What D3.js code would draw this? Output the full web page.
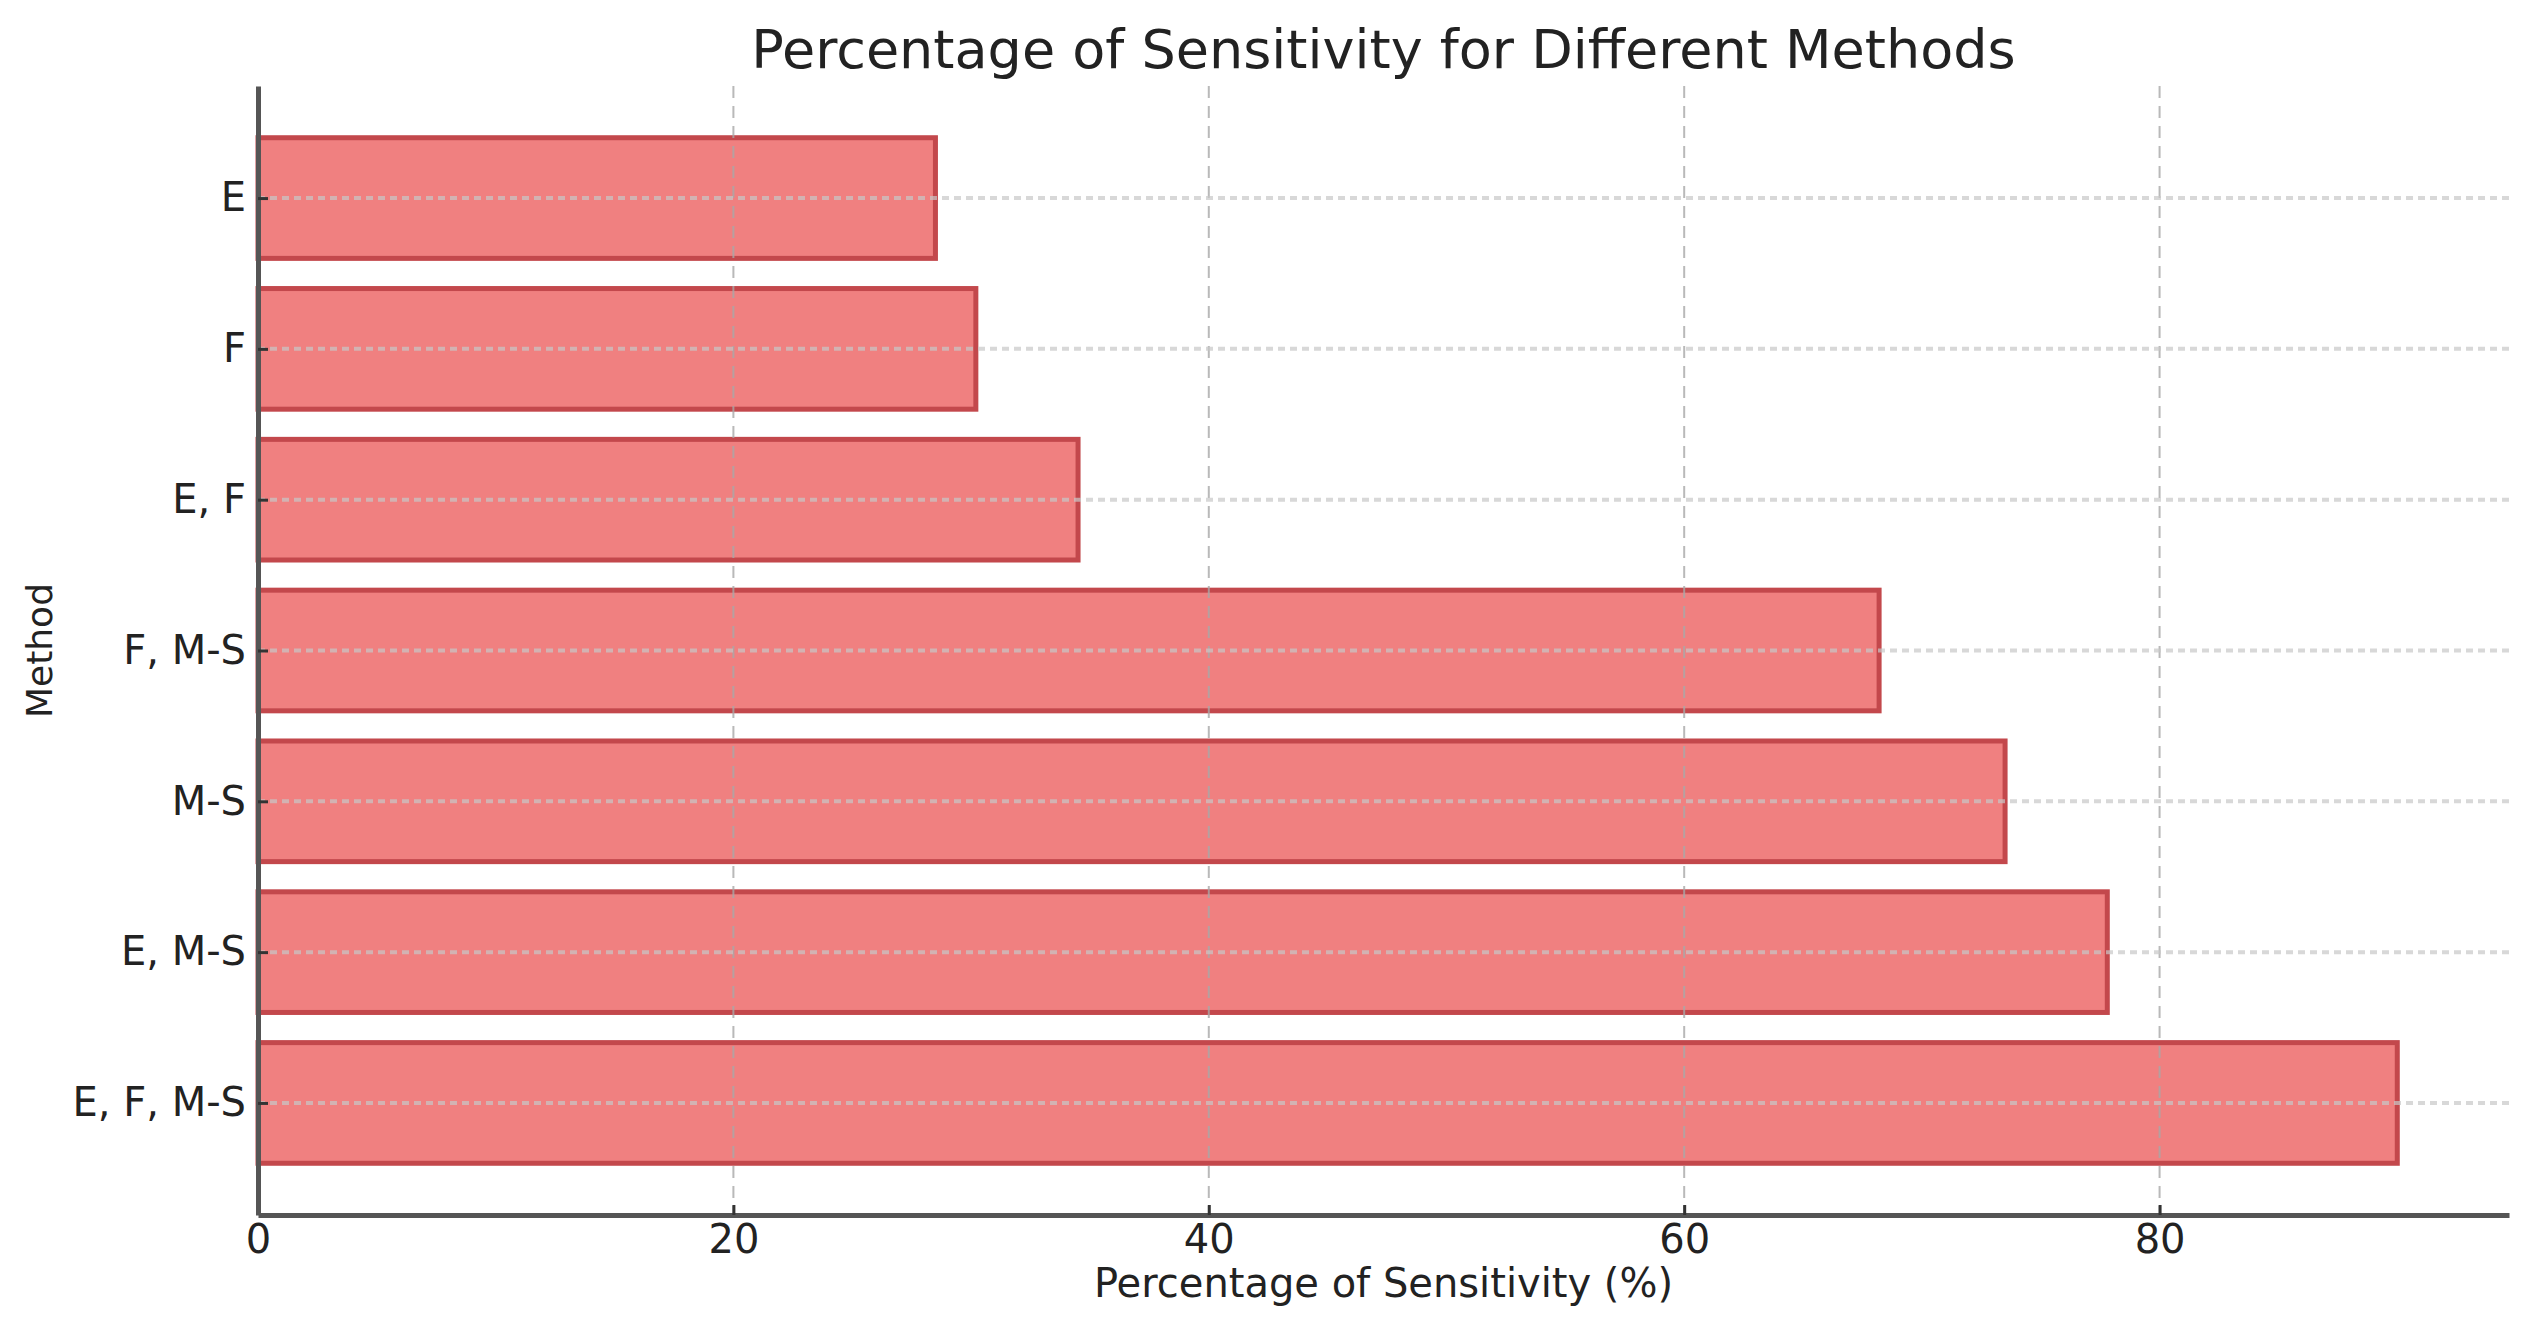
<!DOCTYPE html>
<html>
<head>
<meta charset="utf-8">
<script src="https://cdn.jsdelivr.net/npm/d3@7"></script>
<style>
  body { margin: 0; background: #fff; }
  text { font-family: "DejaVu Sans", sans-serif; fill: #222; }
</style>
</head>
<body>
<div id="chart"></div>
<script>
// data, bottom bar first (matplotlib barh order)
const methods = ["E, F, M-S", "E, M-S", "M-S", "F, M-S", "E, F", "F", "E"];
const sensitivity = [90.0, 77.8, 73.5, 68.2, 34.5, 30.2, 28.5];
const xTicks = [0, 20, 40, 60, 80];

const W = 2536, H = 1338;
const plotLeft = 258, plotRight = 2509, plotTop = 86, plotBottom = 1215;

const svg = d3.select("#chart").append("svg")
    .attr("xmlns", "http://www.w3.org/2000/svg")
    .attr("width", W)
    .attr("height", H);

svg.append("rect")
    .attr("width", W)
    .attr("height", H)
    .attr("fill", "white");

const x = d3.scaleLinear().domain([0, 94.7]).range([plotLeft, plotRight]);
const y = d3.scaleLinear().domain([-0.743, methods.length - 1 + 0.743]).range([plotBottom, plotTop]);
const barH = y(0) - y(0.8);

// bars
svg.append("g").selectAll("rect")
    .data(sensitivity)
    .join("rect")
    .attr("x", x(0))
    .attr("y", (d, i) => y(i) - barH / 2)
    .attr("width", d => x(d) - x(0))
    .attr("height", barH)
    .attr("fill", "#f08080")
    .attr("stroke", "#c3484c")
    .attr("stroke-width", 5);

// grid, drawn over the bars
const grid = svg.append("g");
grid.selectAll("line.vx")
    .data(xTicks.slice(1))
    .join("line")
    .attr("class", "vx")
    .attr("x1", d => x(d)).attr("x2", d => x(d))
    .attr("y1", plotTop).attr("y2", plotBottom)
    .attr("stroke", "#a8a8a8")
    .attr("stroke-width", 2)
    .attr("stroke-dasharray", "12,8")
    .attr("opacity", 0.8);
grid.selectAll("line.hy")
    .data(d3.range(methods.length))
    .join("line")
    .attr("class", "hy")
    .attr("x1", plotLeft).attr("x2", plotRight)
    .attr("y1", d => y(d)).attr("y2", d => y(d))
    .attr("stroke", "#c8c8c8")
    .attr("stroke-width", 4)
    .attr("stroke-dasharray", "7,5")
    .attr("opacity", 0.7);

// axes
const xAxis = svg.append("g")
    .attr("transform", `translate(0,${plotBottom})`)
    .call(d3.axisBottom(x).tickValues(xTicks).tickSizeInner(-10).tickSizeOuter(0).tickPadding(10));

const yAxis = svg.append("g")
    .attr("transform", `translate(${plotLeft},0)`)
    .call(d3.axisLeft(y).tickValues(d3.range(methods.length))
        .tickFormat(i => methods[i]).tickSizeInner(-10).tickSizeOuter(0).tickPadding(12));

[xAxis, yAxis].forEach(a => {
    a.select(".domain").attr("stroke", "#555").attr("stroke-width", 5);
    a.selectAll(".tick line").attr("stroke", "#333").attr("stroke-width", 3);
    a.selectAll(".tick text")
        .attr("font-family", "DejaVu Sans")
        .attr("font-size", 40)
        .attr("fill", "#222");
});

// titles
svg.append("text")
    .attr("x", (plotLeft + plotRight) / 2)
    .attr("y", 68)
    .attr("text-anchor", "middle")
    .attr("font-size", 54)
    .text("Percentage of Sensitivity for Different Methods");

svg.append("text")
    .attr("x", (plotLeft + plotRight) / 2)
    .attr("y", 1297)
    .attr("text-anchor", "middle")
    .attr("font-size", 40)
    .text("Percentage of Sensitivity (%)");

svg.append("text")
    .attr("transform", `translate(52,${(plotTop + plotBottom) / 2}) rotate(-90)`)
    .attr("text-anchor", "middle")
    .attr("font-size", 36)
    .text("Method");
</script>
</body>
</html>
